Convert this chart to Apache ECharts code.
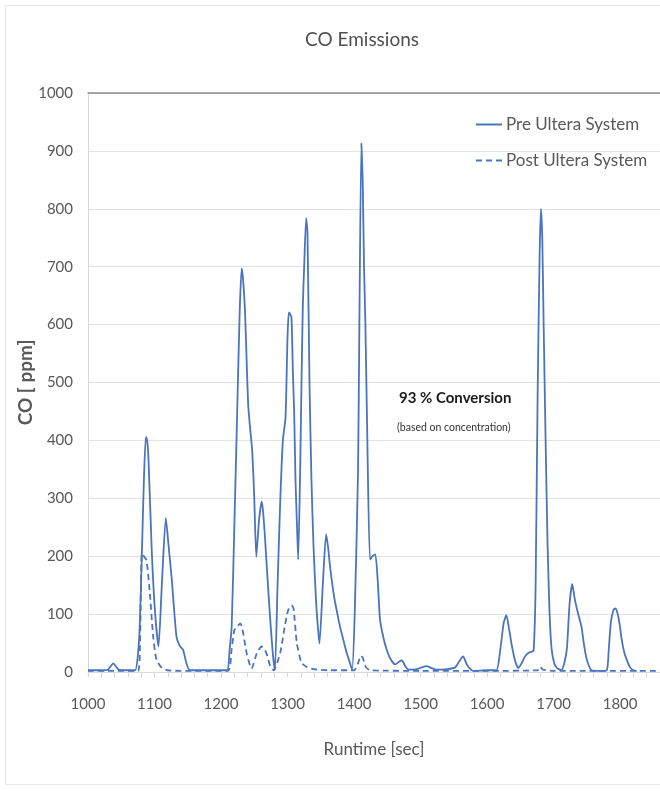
<!DOCTYPE html>
<html>
<head>
<meta charset="utf-8">
<style>
  html, body { margin: 0; padding: 0; background: #ffffff; }
  #chart { width: 660px; height: 791px; }
</style>
<script src="https://cdn.jsdelivr.net/npm/echarts@6/dist/echarts.min.js"></script>
</head>
<body>
<div id="chart"></div>
<script>
// Runtime (s) and CO concentration (ppm) upstream of the converter
const preTime = [1000, 1020, 1030, 1038, 1046, 1060, 1071, 1077, 1081, 1084, 1087, 1089, 1091, 1096, 1101, 1106, 1111, 1117, 1121, 1126, 1133, 1138, 1143, 1148, 1153, 1170, 1190, 1209, 1213, 1216, 1220, 1224, 1228, 1231, 1233, 1236, 1239, 1241, 1244, 1247, 1250, 1253, 1257, 1261, 1263, 1266, 1270, 1274, 1278, 1281, 1285, 1289, 1293, 1297, 1300, 1302, 1304, 1306, 1308, 1310, 1312, 1314, 1316, 1319, 1321, 1323, 1325, 1328, 1330, 1333, 1336, 1339, 1343, 1348, 1353, 1358, 1361, 1364, 1370, 1375, 1379, 1384, 1389, 1394, 1397, 1401, 1406, 1408, 1411, 1413, 1415, 1417, 1420, 1424, 1428, 1432, 1436, 1439, 1444, 1449, 1455, 1462, 1468, 1472, 1477, 1482, 1495, 1502, 1509, 1516, 1524, 1540, 1552, 1558, 1564, 1570, 1579, 1600, 1614, 1620, 1625, 1629, 1633, 1637, 1642, 1647, 1652, 1657, 1662, 1667, 1670, 1673, 1676, 1679, 1681, 1683, 1685, 1688, 1691, 1694, 1697, 1701, 1705, 1712, 1716, 1720, 1724, 1728, 1732, 1737, 1742, 1746, 1750, 1757, 1770, 1780, 1783, 1786, 1790, 1793, 1796, 1799, 1802, 1806, 1810, 1815, 1820, 1825];
const preCO = [3, 3, 4, 15, 4, 3, 3, 60, 205, 330, 406, 400, 366, 205, 100, 44, 150, 266, 220, 159, 61, 45, 38, 15, 3, 3, 3, 3, 40, 78, 250, 435, 620, 697, 680, 625, 520, 458, 418, 380, 300, 199, 260, 294, 280, 234, 160, 90, 30, 3, 150, 294, 400, 440, 580, 621, 618, 611, 520, 447, 330, 260, 194, 350, 500, 633, 700, 784, 758, 500, 330, 219, 120, 49, 150, 238, 215, 181, 130, 100, 78, 55, 33, 15, 4, 100, 348, 600, 913, 850, 700, 604, 400, 194, 200, 203, 150, 91, 60, 39, 22, 13, 18, 20, 10, 4, 5, 8, 10, 7, 4, 5, 8, 18, 27, 12, 2, 3, 3, 40, 85, 98, 75, 47, 20, 7, 15, 27, 33, 35, 37, 150, 477, 720, 800, 750, 604, 400, 219, 100, 40, 15, 7, 3, 15, 40, 117, 152, 125, 100, 78, 45, 21, 3, 2, 3, 40, 85, 107, 110, 102, 85, 59, 35, 21, 8, 3, 2];

// Runtime (s) and CO concentration (ppm) downstream of the converter
const postTime = [1000, 1075, 1078, 1081, 1084, 1088, 1093, 1098, 1103, 1111, 1120, 1140, 1210, 1216, 1220, 1224, 1229, 1232, 1239, 1246, 1254, 1261, 1266, 1269, 1274, 1279, 1289, 1296, 1301, 1306, 1309, 1314, 1321, 1330, 1339, 1360, 1400, 1406, 1410, 1413, 1418, 1425, 1500, 1600, 1676, 1680, 1684, 1700, 1860];
const postCO = [2, 2, 40, 205, 200, 193, 136, 61, 21, 7, 3, 2, 2, 40, 72, 78, 84, 75, 30, 6, 33, 44, 38, 30, 10, 3, 33, 80, 107, 115, 110, 50, 16, 8, 5, 3, 3, 15, 28, 25, 8, 3, 2, 2, 3, 9, 4, 2, 2];

const seriesNames = ['Pre Ultera System', 'Post Ultera System'];
const xTicks = { min: 1000, max: 1860, step: 100 };
const yTicks = { min: 0, max: 1000, step: 100 };

const pairs = (xs, ys) => xs.map((x, i) => [x, ys[i]]);

const FONT = 'Lato, "Open Sans", sans-serif';
const GREY = '#595959';
const BLUE = '#4a74be';

const chart = echarts.init(document.getElementById('chart'), null, { renderer: 'canvas' });

chart.setOption({
  animation: false,
  backgroundColor: '#ffffff',
  title: {
    text: 'CO Emissions',
    left: 357,
    top: 25,
    textAlign: 'center',
    textStyle: { fontFamily: FONT, fontSize: 19, fontWeight: 'normal', color: '#505050' }
  },
  legend: {
    orient: 'vertical',
    left: 470,
    top: 111,
    itemWidth: 26,
    itemHeight: 14,
    itemGap: 19,
    itemStyle: { opacity: 0 },
    textStyle: { fontFamily: FONT, fontSize: 17, color: GREY, padding: [0, 0, 0, -1] },
    data: seriesNames
  },
  grid: { left: 88, right: 0, top: 93, bottom: 119, containLabel: false },
  xAxis: [{
    type: 'value',
    min: xTicks.min,
    max: xTicks.max,
    interval: xTicks.step,
    name: 'Runtime [sec]',
    nameLocation: 'middle',
    nameGap: 69,
    nameTextStyle: { fontFamily: FONT, fontSize: 17, color: GREY },
    axisLine: { show: true, lineStyle: { color: '#d9d9d9', width: 1 } },
    axisTick: { show: true, length: 5, lineStyle: { color: '#d9d9d9' } },
    minorTick: { show: true, splitNumber: 5, length: 5, lineStyle: { color: '#d9d9d9' } },
    splitLine: { show: false },
    axisLabel: {
      showMaxLabel: false, margin: 25, fontFamily: FONT, fontSize: 15, color: GREY,
      formatter: (v) => String(v)
    }
  }, {
    type: 'value',
    position: 'top',
    min: xTicks.min,
    max: xTicks.max,
    axisLine: { show: true, onZero: false, lineStyle: { color: '#8c8c8c', width: 1.5 } },
    axisTick: { show: false },
    axisLabel: { show: false },
    splitLine: { show: false }
  }],
  yAxis: {
    type: 'value',
    min: yTicks.min,
    max: yTicks.max,
    interval: yTicks.step,
    name: 'CO [ ppm]',
    nameLocation: 'middle',
    nameGap: 53,
    nameMoveOverlap: false,
    nameTextStyle: { fontFamily: FONT, fontSize: 19, fontWeight: 'bold', color: GREY },
    axisLine: { show: true, lineStyle: { color: '#d9d9d9', width: 1 } },
    axisTick: { show: false },
    splitLine: { show: true, lineStyle: { color: '#e3e3e3', width: 1 } },
    axisLabel: {
      margin: 15, fontFamily: FONT, fontSize: 15, color: GREY,
      formatter: (v) => String(v)
    }
  },
  graphic: [
    {
      type: 'rect',
      shape: { x: 5.5, y: 5.5, width: 700, height: 779 },
      style: { fill: 'none', stroke: '#e6e6e6', lineWidth: 1 },
      silent: true, z: -1
    },
    {
      type: 'text',
      left: 399, top: 391,
      style: { text: '93 % Conversion', font: 'bold 15px ' + FONT, fill: '#1a1a1a' }
    },
    {
      type: 'text',
      left: 397, top: 422,
      style: { text: '(based on concentration)', font: '10.5px ' + FONT, fill: '#333333' }
    }
  ],
  series: [
    {
      name: seriesNames[0],
      type: 'line',
      data: pairs(preTime, preCO),
      showSymbol: false,
      symbol: 'none',
      smooth: 0.2,
      itemStyle: { color: BLUE },
      lineStyle: { color: BLUE, width: 1.8 },
      z: 3
    },
    {
      name: seriesNames[1],
      type: 'line',
      data: pairs(postTime, postCO),
      showSymbol: false,
      symbol: 'none',
      smooth: 0.2,
      itemStyle: { color: BLUE },
      lineStyle: { color: BLUE, width: 1.8, type: [6, 4] },
      z: 2
    }
  ]
});
</script>
</body>
</html>
